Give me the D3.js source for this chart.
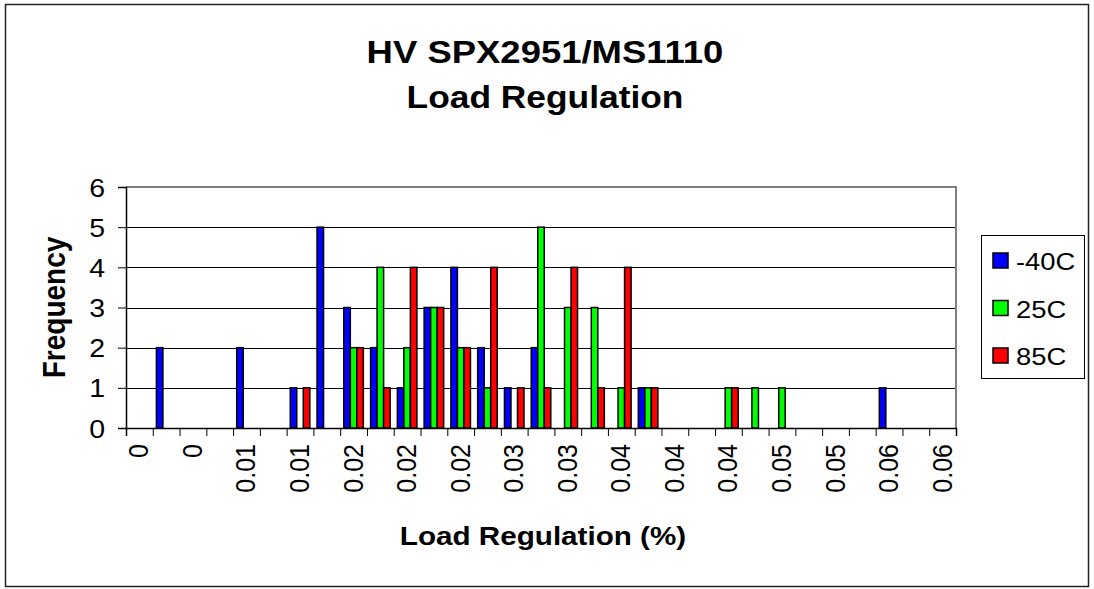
<!DOCTYPE html>
<html>
<head>
<meta charset="utf-8">
<script src="https://cdn.jsdelivr.net/npm/d3@7"></script>
<style>
  body { margin: 0; background: #fff; }
  text { font-family: "Liberation Sans", Arial, sans-serif; fill: #000; }
</style>
</head>
<body>
<div id="chart"></div>
<script>
var w = 1094;
var h = 589;

// bin labels (Excel shows every second one)
var bins = ["0", "0", "0", "0.01", "0.01", "0.01", "0.01", "0.01", "0.02", "0.02",
            "0.02", "0.02", "0.02", "0.03", "0.03", "0.03", "0.03", "0.03", "0.04", "0.04",
            "0.04", "0.04", "0.04", "0.05", "0.05", "0.05", "0.05", "0.05", "0.06", "0.06", "0.06"];

var seriesNames = ["-40C", "25C", "85C"];
var seriesColors = ["#0000ff", "#00ff00", "#ff0000"];

var cold = [0, 2, 0, 0, 2, 0, 1, 5, 3, 2, 1, 3, 4, 2, 1, 2, 0, 0, 0, 1, 0, 0, 0, 0, 0, 0, 0, 0, 1, 0, 0];
var room = [0, 0, 0, 0, 0, 0, 0, 0, 2, 4, 2, 3, 2, 1, 0, 5, 3, 3, 1, 1, 0, 0, 1, 1, 1, 0, 0, 0, 0, 0, 0];
var hot  = [0, 0, 0, 0, 0, 0, 1, 0, 2, 1, 4, 3, 2, 4, 1, 1, 4, 1, 4, 1, 0, 0, 1, 0, 0, 0, 0, 0, 0, 0, 0];

var yTicks = [0, 1, 2, 3, 4, 5, 6];

var series = [cold, room, hot];
var plot = { left: 126, right: 956, top: 187, bottom: 428 };
var sx = 1.14; // the original picture is a bit wider than tall

var svg = d3.select("#chart").append("svg")
    .attr("width", w)
    .attr("height", h);

// put a text at x,y and stretch it sideways
function wide(sel, x, y) {
    return sel.attr("transform", "translate(" + x + "," + y + ") scale(" + sx + ",1)");
}

// outer chart border
svg.append("rect")
    .attr("x", 5.5).attr("y", 4.5)
    .attr("width", 1083).attr("height", 582)
    .attr("fill", "#fff")
    .attr("stroke", "#222").attr("stroke-width", 1.5);

var x0 = d3.scaleBand()
    .domain(d3.range(bins.length))
    .range([plot.left, plot.right])
    .paddingInner(0.27)
    .paddingOuter(0.135);

var x1 = d3.scaleBand()
    .domain(d3.range(series.length))
    .range([0, x0.bandwidth()]);

var y = d3.scaleLinear()
    .domain([0, 6])
    .range([plot.bottom, plot.top]);

// gridlines
svg.append("g")
    .selectAll("line")
    .data(yTicks.slice(1, -1))
    .enter().append("line")
    .attr("x1", plot.left).attr("x2", plot.right)
    .attr("y1", d => Math.round(y(d)) + 0.5)
    .attr("y2", d => Math.round(y(d)) + 0.5)
    .attr("stroke", "#000");

// plot area frame (top and right in grey)
svg.append("path")
    .attr("d", "M" + plot.left + "," + plot.top + "H" + plot.right + "V" + plot.bottom)
    .attr("fill", "none")
    .attr("stroke", "#808080")
    .attr("stroke-width", 2);

// bars
var groups = svg.append("g")
    .selectAll("g")
    .data(bins.map((b, i) => i))
    .enter().append("g")
    .attr("transform", i => "translate(" + x0(i) + ",0)");

groups.selectAll("rect")
    .data(i => series.map((s, k) => ({ k: k, v: s[i] })).filter(d => d.v > 0))
    .enter().append("rect")
    .attr("x", d => x1(d.k))
    .attr("y", d => y(d.v))
    .attr("width", x1.bandwidth())
    .attr("height", d => y(0) - y(d.v))
    .attr("fill", d => seriesColors[d.k])
    .attr("stroke", "#000")
    .attr("stroke-width", 1.5);

// y axis
var yAxis = d3.axisLeft(y)
    .tickValues(yTicks)
    .tickFormat(d3.format("d"))
    .tickSize(8);

var gy = svg.append("g")
    .attr("transform", "translate(" + plot.left + ",0)")
    .call(yAxis);
gy.select(".domain").attr("stroke", "#000").attr("stroke-width", 1.5);
gy.selectAll(".tick line").attr("stroke", "#000");
gy.selectAll(".tick text")
    .attr("x", 0).attr("dy", "0.36em")
    .attr("transform", "translate(-21,0) scale(" + sx + ",1)")
    .style("font-size", "25px");

// x axis: ticks on category boundaries, labels on every second category
var xEdge = d3.scaleLinear()
    .domain([0, bins.length])
    .range([plot.left, plot.right]);

var xAxis = d3.axisBottom(xEdge)
    .tickValues(d3.range(bins.length + 1))
    .tickFormat("")
    .tickSize(8);

var gx = svg.append("g")
    .attr("transform", "translate(0," + plot.bottom + ")")
    .call(xAxis);
gx.select(".domain").attr("stroke", "#000").attr("stroke-width", 1.5);
gx.selectAll(".tick line").attr("stroke", "#000");

svg.append("g")
    .selectAll("text")
    .data(bins.map((b, i) => ({ label: b, i: i })).filter(d => d.i % 2 === 0))
    .enter().append("text")
    .attr("transform", d => "translate(" + (x0(d.i) + x0.bandwidth() / 2 + 9) + "," + (plot.bottom + 16) + ") rotate(-90) scale(1," + sx + ")")
    .attr("text-anchor", "end")
    .style("font-size", "25px")
    .text(d => d.label);

// titles
wide(svg.append("text"), 545, 63)
    .attr("text-anchor", "middle")
    .style("font-size", "32px").style("font-weight", "bold")
    .text("HV SPX2951/MS1110");

wide(svg.append("text"), 545, 108)
    .attr("text-anchor", "middle")
    .style("font-size", "31px").style("font-weight", "bold")
    .text("Load Regulation");

wide(svg.append("text"), 543, 545)
    .attr("text-anchor", "middle")
    .style("font-size", "26px").style("font-weight", "bold")
    .text("Load Regulation (%)");

svg.append("text")
    .attr("transform", "translate(65," + ((plot.top + plot.bottom) / 2) + ") rotate(-90) scale(1," + sx + ")")
    .attr("text-anchor", "middle")
    .style("font-size", "28px").style("font-weight", "bold")
    .text("Frequency");

// legend
var legend = svg.append("g").attr("transform", "translate(981,235)");
legend.append("rect")
    .attr("x", 0.5).attr("y", 0.5)
    .attr("width", 103).attr("height", 143)
    .attr("fill", "#fff")
    .attr("stroke", "#000");

var items = legend.selectAll("g.item")
    .data(seriesNames)
    .enter().append("g")
    .attr("class", "item")
    .attr("transform", (d, i) => "translate(0," + (26 + i * 47.5) + ")");

items.append("rect")
    .attr("x", 12).attr("y", -8)
    .attr("width", 15).attr("height", 15)
    .attr("fill", (d, i) => seriesColors[i])
    .attr("stroke", "#000").attr("stroke-width", 1.5);

items.each(function (d) {
    wide(d3.select(this).append("text"), 35, 9)
        .style("font-size", "24px")
        .text(d);
});
</script>
</body>
</html>
